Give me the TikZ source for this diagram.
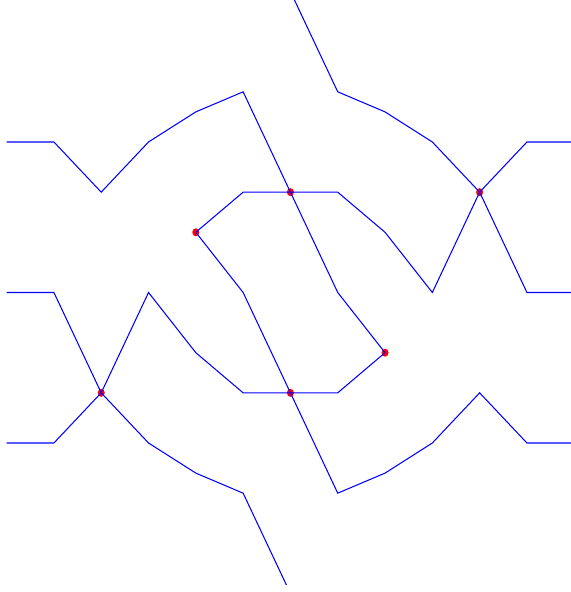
\documentclass[tikz,border=0pt]{standalone}
\begin{document}
\begin{tikzpicture}[x=1.419cm, y=1.505cm,
    wave/.style={blue, line width=0.9pt, line join=miter},
    knot/.style={red}]
    \useasboundingbox (-6.14,-5.97) rectangle (5.93,5.83);
    \clip (-6.14,-5.83) rectangle (5.93,5.83);

    % 交点
    \coordinate (k1) at (0,2);
    \coordinate (k2) at (4,2);
    \coordinate (k3) at (-2,1.2);
    \coordinate (k4) at (2,-1.2);
    \coordinate (k5) at (-4,-2);
    \coordinate (k6) at (0,-2);
    \foreach \k in {k1,k2,k3,k4,k5,k6}
        \fill[knot] (\k) ellipse (0.075 and 0.08);

    % 上半部分
    \draw[wave] (0,6) -- (1,4) -- (2,3.6) -- (3,3) -- (k2) -- (5,0) -- (6,0);
    \draw[wave] (-6,3) -- (-5,3) -- (-4,2) -- (-3,3) -- (-2,3.6) -- (-1,4) -- (k1) -- (1,0) -- (k4);
    \draw[wave] (k3) -- (-1,2) -- (k1) -- (1,2) -- (2,1.2) -- (3,0) -- (k2) -- (5,3) -- (6,3);

    % 下半部分
    \draw[wave] (k3) -- (-1,0) -- (k6) -- (1,-4) -- (2,-3.6) -- (3,-3) -- (4,-2) -- (5,-3) -- (6,-3);
    \draw[wave] (k4) -- (1,-2) -- (k6) -- (-1,-2) -- (-2,-1.2) -- (-3,0) -- (k5) -- (-5,-3) -- (-6,-3);
    \draw[wave] (-6,0) -- (-5,0) -- (k5) -- (-3,-3) -- (-2,-3.6) -- (-1,-4) -- (0,-6);
\end{tikzpicture}
\end{document}
